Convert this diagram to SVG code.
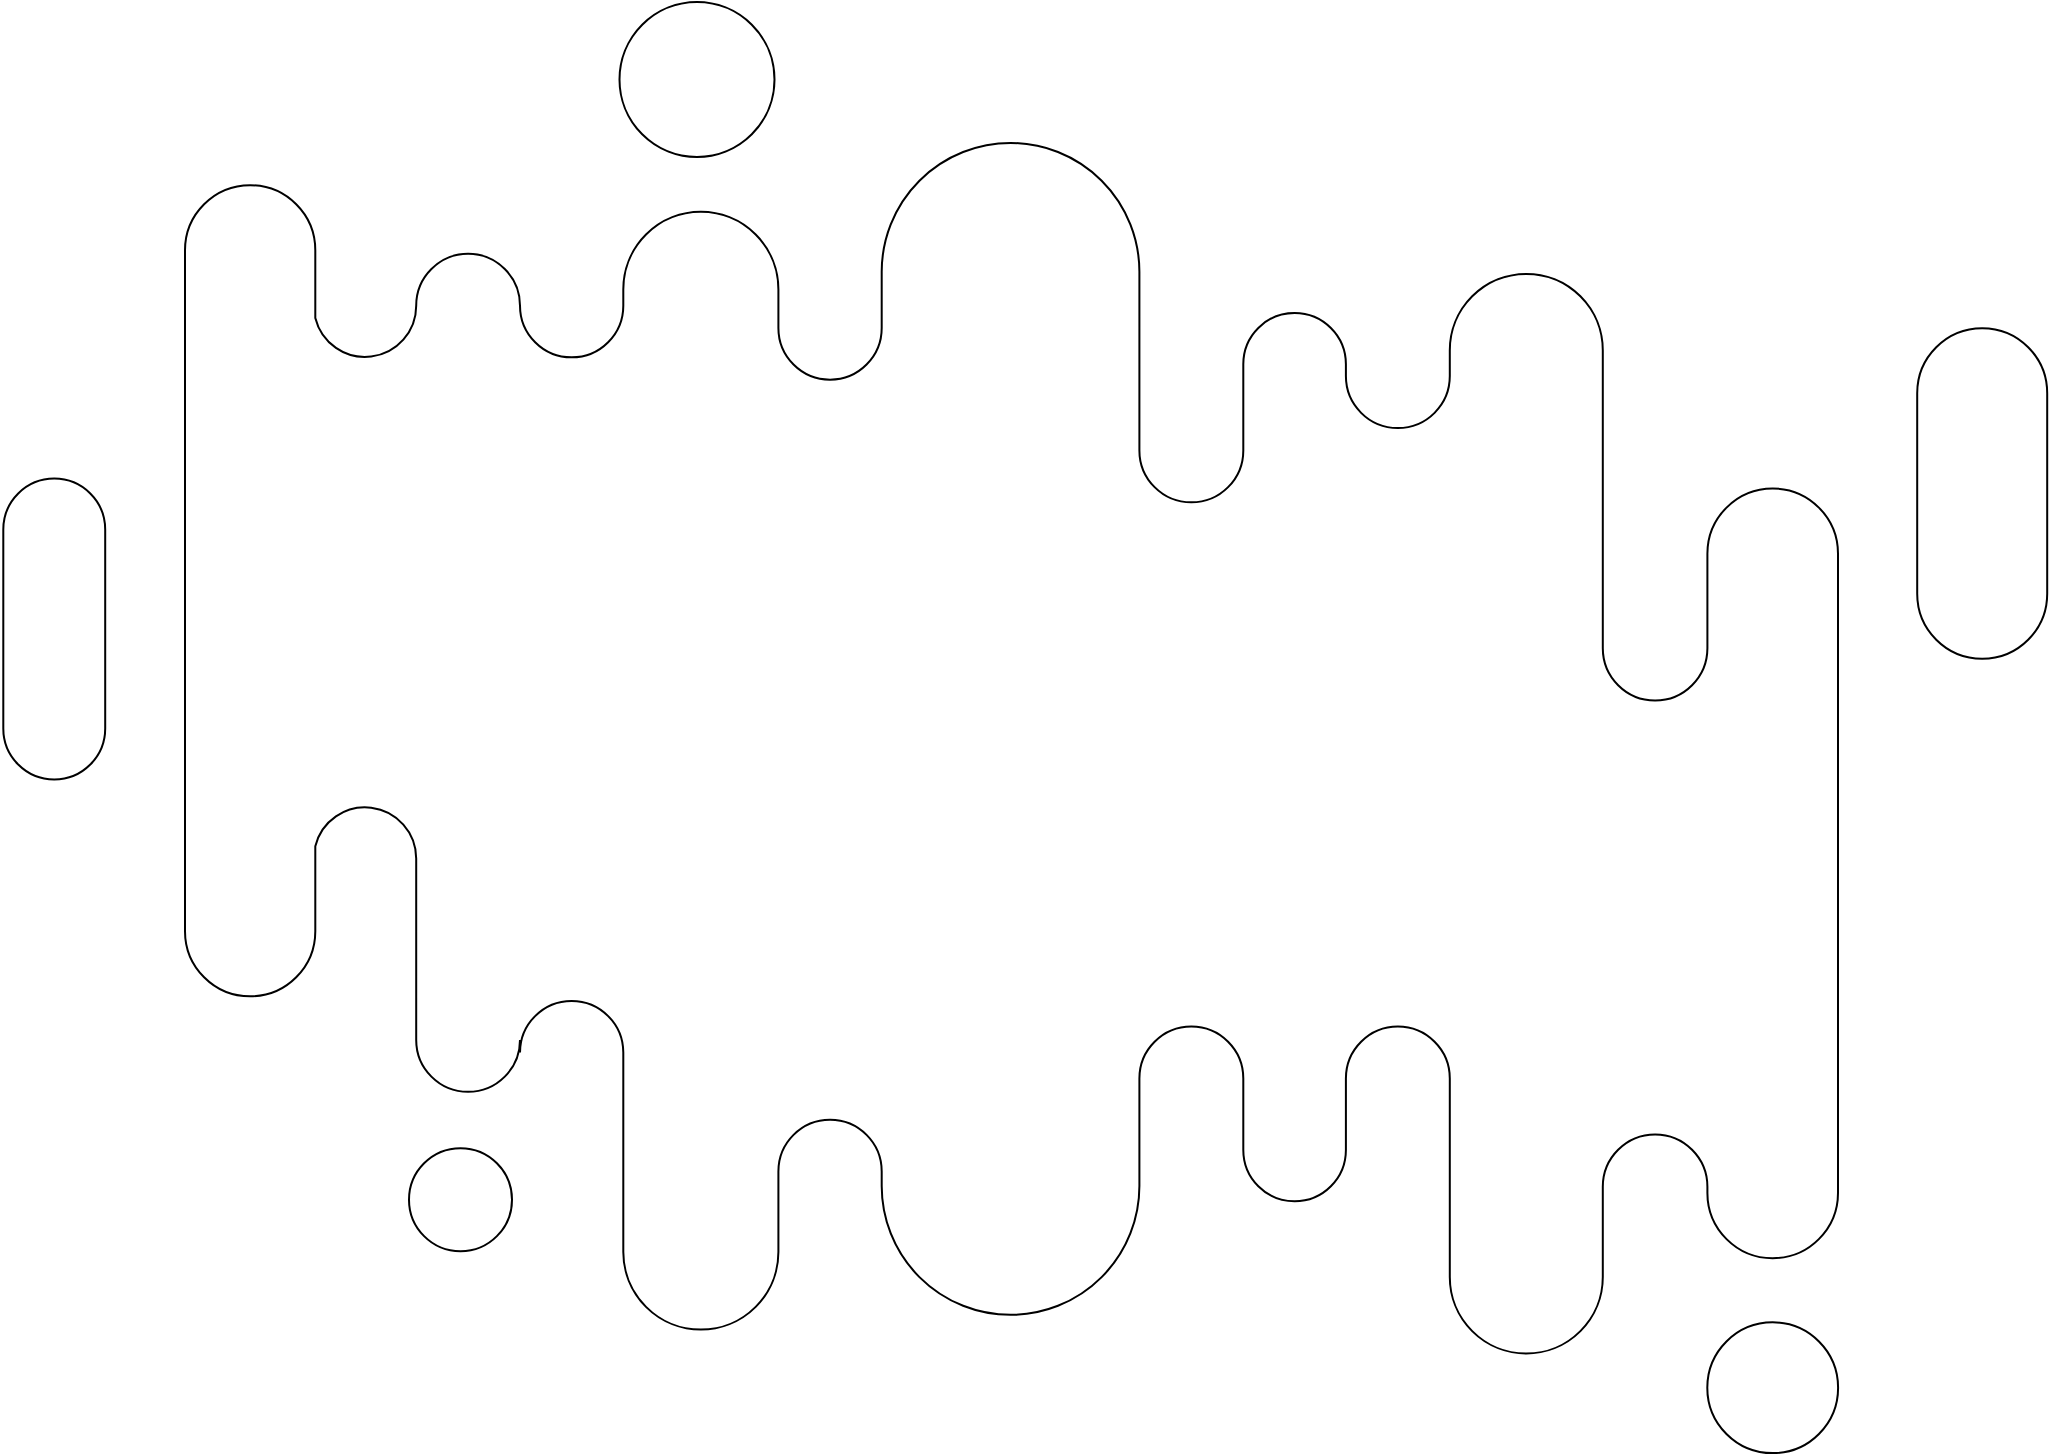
<svg xmlns="http://www.w3.org/2000/svg" width="2051" height="1456" viewBox="0 0 2051 1456">
<style>
.s{fill:none;stroke:#000;stroke-width:2}
</style>
<rect width="2051" height="1456" fill="#fff"/>
<g id="main-shape">
<path class="s" d="M185 250.35 A65.15 65.15 0 0 1 315.3 250.35 L315.3 318 A51.2 51.2 0 0 0 416.2 305.7 A51.9 51.9 0 0 1 520 305.7 A51.65 51.65 0 0 0 623.3 305.7 L623.3 289.4 A77.55 77.55 0 0 1 778.4 289.4 L778.4 328 A51.65 51.65 0 0 0 881.7 328 L881.7 271.8 A128.85 128.85 0 0 1 1139.4 271.8 L1139.4 450.4 A51.95 51.95 0 0 0 1243.3 450.4 L1243.3 364.2 A51.3 51.3 0 0 1 1345.9 364.2 L1345.9 376.1 A51.95 51.95 0 0 0 1449.8 376.1 L1449.8 350.4 A76.5 76.5 0 0 1 1602.8 350.4 L1602.8 648.3 A52.3 52.3 0 0 0 1707.4 648.3 L1707.4 553.7 A65.3 65.3 0 0 1 1838 553.7 L1838 1193 A65.3 65.3 0 0 1 1707.4 1193 L1707.4 1186.7 A52.3 52.3 0 0 0 1602.8 1186.7 L1602.8 1277 A76.5 76.5 0 0 1 1449.8 1277 L1449.8 1078.5 A51.95 51.95 0 0 0 1345.9 1078.5 L1345.9 1150 A51.3 51.3 0 0 1 1243.3 1150 L1243.3 1078.5 A51.95 51.95 0 0 0 1139.4 1078.5 L1139.4 1186 A128.85 128.85 0 0 1 881.7 1186 L881.7 1171.4 A51.65 51.65 0 0 0 778.4 1171.4 L778.4 1252 A77.55 77.55 0 0 1 623.3 1252 L623.3 1052.6 A51.65 51.65 0 0 0 520 1052.6 L520 1040 A51.9 51.9 0 0 1 416.2 1040 L416.2 858.5 A51.2 51.2 0 0 0 315.3 846.2 L315.3 931.2 A65.15 65.15 0 0 1 185 931.2 Z"/>
</g>
<g id="top-circle"><circle class="s" cx="697" cy="79.5" r="77.5"/></g>
<g id="left-pill"><rect class="s" x="3.3" y="478.6" width="101.9" height="300.9" rx="50.95" ry="50.95"/></g>
<g id="right-pill"><rect class="s" x="1917.2" y="328.2" width="130" height="330.6" rx="65" ry="65"/></g>
<g id="small-circle"><circle class="s" cx="460.5" cy="1199.7" r="51.5"/></g>
<g id="bottom-circle"><circle class="s" cx="1772.7" cy="1387.7" r="65.4"/></g>
<g id="connectors"></g>
</svg>
